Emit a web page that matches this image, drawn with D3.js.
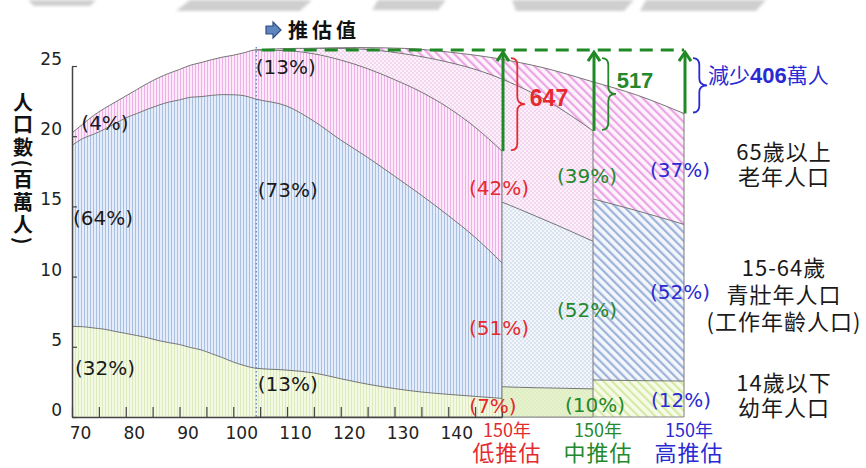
<!DOCTYPE html>
<html lang="zh-Hant">
<head>
<meta charset="utf-8">
<title>人口數推估</title>
<script src="https://cdn.jsdelivr.net/npm/d3@7/dist/d3.min.js"></script>
<style>
  html, body { margin: 0; padding: 0; background: #fff; }
  svg { display: block; }
</style>
</head>
<body>
<svg id="chart" width="866" height="468"></svg>
<script>
// ---- Population by age group, millions of people (ROC years) ----
const histYears    = [70, 72, 74, 76, 78, 80, 82, 84, 86, 88, 90, 92, 94, 96, 98, 100, 102, 104];
const histChildren = [5.80, 5.78, 5.70, 5.62, 5.48, 5.35, 5.22, 5.08, 4.90, 4.76, 4.64, 4.45, 4.30, 4.05, 3.80, 3.52, 3.30, 3.13];
const histWorking  = [11.59, 12.05, 12.40, 12.80, 13.30, 13.80, 14.20, 14.62, 15.05, 15.40, 15.66, 16.02, 16.21, 16.54, 16.84, 17.11, 17.27, 17.24];
const histElderly  = [0.80, 0.92, 1.20, 1.33, 1.37, 1.40, 1.53, 1.65, 1.75, 1.84, 1.95, 2.05, 2.18, 2.29, 2.40, 2.53, 2.75, 3.12];

// Projections from the base year 104 to 150
const projYears     = [104, 110, 115, 120, 125, 130, 135, 140, 145, 150];
const lowChildren   = [3.13, 3.00, 2.82, 2.45, 2.10, 1.82, 1.60, 1.45, 1.32, 1.19];
const lowWorking    = [17.24, 16.90, 16.12, 15.28, 14.52, 13.60, 12.60, 11.45, 10.18, 8.68];
const lowElderly    = [3.12, 3.55, 4.31, 5.12, 5.68, 6.18, 6.60, 6.90, 7.05, 7.15];
const midChildren   = [3.13, 3.05, 2.95, 2.75, 2.45, 2.20, 2.00, 1.90, 1.85, 1.80];
const midWorking    = [17.24, 16.75, 15.95, 15.05, 14.15, 13.30, 12.30, 11.40, 10.45, 9.45];
const midElderly    = [3.12, 3.80, 4.70, 5.70, 6.60, 7.25, 7.80, 7.85, 7.60, 7.07];
const highChildren  = [3.13, 3.15, 3.15, 3.00, 2.80, 2.60, 2.45, 2.37, 2.33, 2.30];
const highWorking   = [17.24, 16.65, 15.75, 14.80, 13.90, 13.10, 12.35, 11.63, 10.87, 10.03];
const highElderly   = [3.12, 3.80, 4.75, 5.80, 6.65, 7.25, 7.55, 7.50, 7.40, 7.10];

// Axis ticks and labels
const yTickValues  = [0, 5, 10, 15, 20, 25];
const xTickValues  = [70, 75, 80, 85, 90, 95, 100, 105, 110, 115, 120, 125, 130, 135, 140, 145, 150];
const xTickLabels  = [70, 80, 90, 100, 110, 120, 130, 140];
const scenarioNames = ["低推估", "中推估", "高推估"];
const endYearLabel  = "150年";
const projLabel     = "推估值";
const yTitle        = "人口數(百萬人)";
const groupLegend   = [["65歲以上", "老年人口"], ["15-64歲", "青壯年人口", "(工作年齡人口)"], ["14歲以下", "幼年人口"]];

// ---- Setup ----
const svg = d3.select("#chart");
const defs = svg.append("defs");
const CJK = '"Noto Sans CJK TC", "Noto Sans CJK SC", sans-serif';
const NUM = '"DejaVu Sans", sans-serif';
const BOLD = '"Liberation Sans", Arial, sans-serif';
const RED = "#e42a2f", GREEN = "#24882c", BLUE = "#2a2ad2", ARROW = "#1f8a25";

const baseYear = 104, endYear = 150;
// population scale (millions)
const y = d3.scaleLinear().domain([0, 25]).range([417, 417 - 25 * 15.62]);
// printed value axis
const yAxisScale = d3.scaleLinear().domain([0, 25]).range([417, 66]);
const xLow  = d3.scaleLinear().domain([70, endYear]).range([72, 502]);
const xMid  = d3.scaleLinear().domain([baseYear, endYear]).range([xLow(baseYear), 593]);
const xHigh = d3.scaleLinear().domain([baseYear, endYear]).range([xLow(baseYear), 684]);

// ---- Fill patterns ----
function stripes(id, bg, fg, size, lw, angle) {
  const p = defs.append("pattern").attr("id", id).attr("patternUnits", "userSpaceOnUse")
    .attr("width", size).attr("height", size);
  if (angle) p.attr("patternTransform", `rotate(${angle})`);
  p.append("rect").attr("width", size).attr("height", size).attr("fill", bg);
  p.append("rect").attr("width", lw).attr("height", size).attr("fill", fg);
}
function dots(id, bg, fg) {
  const p = defs.append("pattern").attr("id", id).attr("patternUnits", "userSpaceOnUse")
    .attr("width", 4).attr("height", 4);
  p.append("rect").attr("width", 4).attr("height", 4).attr("fill", bg);
  p.append("circle").attr("cx", 1).attr("cy", 1).attr("r", 0.75).attr("fill", fg);
  p.append("circle").attr("cx", 3).attr("cy", 3).attr("r", 0.75).attr("fill", fg);
}
stripes("vPink",  "#fde9fa", "#eeb0e8", 3, 1, 0);
stripes("vBlue",  "#e4edf9", "#a9c0e2", 3, 1, 0);
stripes("vGreen", "#f4f9e4", "#dcebbd", 3, 1, 0);
dots("dPink", "#fdf1fb", "#e6aee0");
dots("dBlue", "#f3f6fb", "#b3c4de");
dots("dGreen", "#e5f2cd", "#d5e9b3");
stripes("sPink",  "#fdf3fc", "#eba5e4", 6, 2.2, -45);
stripes("sBlue",  "#f3f6fb", "#9db3d9", 6, 2.2, -45);
stripes("sGreen", "#f7fbea", "#d7eaa4", 6, 2.2, -45);

const blur = defs.append("filter").attr("id", "soft");
blur.append("feGaussianBlur").attr("stdDeviation", 1.4);

// faded banner remnants along the top edge
const banner = [
  [[28, 0], [96, 0], [90, 6], [34, 6]],
  [[190, 0], [312, 0], [300, 11], [176, 11]],
  [[378, 0], [446, 0], [438, 10], [372, 10]],
  [[512, 0], [634, 0], [624, 11], [516, 11]],
  [[646, 0], [766, 0], [756, 11], [640, 11]]
];
svg.append("g").attr("filter", "url(#soft)").selectAll("polygon").data(banner).join("polygon")
  .attr("points", d => d.map(p => p.join(",")).join(" ")).attr("fill", "#cfcfcf");

// ---- Stacked areas: high (back), medium, low + history (front) ----
function rows(years, c, w, e) {
  return years.map((yr, i) => ({ year: yr, children: c[i], working: w[i], elderly: e[i] }));
}
const keys = ["children", "working", "elderly"];
const scenarios = [
  { rows: rows(projYears, highChildren, highWorking, highElderly), x: xHigh, fills: ["sGreen", "sBlue", "sPink"] },
  { rows: rows(projYears, midChildren, midWorking, midElderly), x: xMid, fills: ["dGreen", "dBlue", "dPink"] },
  { rows: rows(histYears, histChildren, histWorking, histElderly)
      .concat(rows(projYears, lowChildren, lowWorking, lowElderly).slice(1)),
    x: xLow, fills: ["vGreen", "vBlue", "vPink"] }
];

scenarios.forEach(s => {
  const g = svg.append("g");
  const series = d3.stack().keys(keys)(s.rows);
  const area = d3.area().x(d => s.x(d.data.year)).y0(d => y(d[0])).y1(d => y(d[1])).curve(d3.curveMonotoneX);
  const line = d3.line().x(d => s.x(d.data.year)).y(d => y(d[1])).curve(d3.curveMonotoneX);
  g.selectAll("path.band").data(series).join("path").attr("class", "band")
    .attr("d", area).attr("fill", (d, i) => `url(#${s.fills[i]})`);
  g.selectAll("path.edge").data(series).join("path").attr("class", "edge")
    .attr("d", line).attr("fill", "none").attr("stroke", "#767676").attr("stroke-width", 1);
  const last = series[2][series[2].length - 1];
  g.append("line").attr("x1", s.x(endYear)).attr("x2", s.x(endYear))
    .attr("y1", y(last[1])).attr("y2", y(0)).attr("stroke", "#7a7a7a").attr("stroke-width", 1);
  g.append("line").attr("x1", s.x(baseYear)).attr("x2", s.x(endYear))
    .attr("y1", y(0)).attr("y2", y(0)).attr("stroke", "#8a8a8a").attr("stroke-width", 1);
});

// projection start marker
svg.append("line").attr("x1", xLow(baseYear) + 1.5).attr("x2", xLow(baseYear) + 1.5)
  .attr("y1", 47).attr("y2", y(0))
  .attr("stroke", "#4f7bbb").attr("stroke-width", 1.2).attr("stroke-dasharray", "1.5,2.5");

// ---- Axes ----
const yAxis = svg.append("g").attr("transform", `translate(${xLow(70)},0)`)
  .call(d3.axisLeft(yAxisScale).tickValues(yTickValues).tickSizeInner(-5).tickSizeOuter(0).tickPadding(10));
yAxis.select(".domain").attr("stroke", "#444").attr("stroke-width", 1.5);
yAxis.selectAll(".tick line").attr("stroke", "#444").attr("stroke-width", 1.2);
yAxis.selectAll(".tick text").attr("transform", "translate(0,-7)")
  .style("font-family", NUM).style("font-size", "17px").attr("fill", "#222");

const xAxis = svg.append("g").attr("transform", `translate(0,${y(0)})`)
  .call(d3.axisBottom(xLow).tickValues(xTickValues).tickSizeInner(-10).tickSizeOuter(0).tickPadding(10)
    .tickFormat(v => xTickLabels.includes(v) ? v : ""));
xAxis.select(".domain").attr("stroke", "#444").attr("stroke-width", 1.5);
xAxis.selectAll(".tick line").attr("stroke", "#444").attr("stroke-width", 1.2);
xAxis.selectAll(".tick text").filter(v => !xTickLabels.includes(v)).remove();
xAxis.selectAll(".tick text").attr("transform", "translate(8,0)")
  .style("font-family", NUM).style("font-size", "17px").attr("fill", "#222");

// scenario labels under each year-150 edge (two lines in one label)
const scenColors = [RED, GREEN, BLUE];
[xLow, xMid, xHigh].forEach((sx, i) => {
  const cx = sx(endYear) + 5;
  const t = svg.append("text").attr("text-anchor", "middle").style("font-family", CJK)
    .attr("fill", scenColors[i]);
  t.append("tspan").attr("x", cx).attr("y", 437).style("font-size", "18px").text(endYearLabel);
  t.append("tspan").attr("x", cx).attr("y", 461).style("font-size", "22px")
    .style("letter-spacing", "1px").text(scenarioNames[i]);
});

// ---- Decline from the base year ----
const baseTotal = histChildren[histChildren.length - 1] + histWorking[histWorking.length - 1] + histElderly[histElderly.length - 1];
const ends = [
  lowChildren[9] + lowWorking[9] + lowElderly[9],
  midChildren[9] + midWorking[9] + midElderly[9],
  highChildren[9] + highWorking[9] + highElderly[9]
];
const topY = y(baseTotal);
svg.append("line").attr("x1", xLow(baseYear) + 7).attr("x2", xHigh(endYear))
  .attr("y1", topY).attr("y2", topY)
  .attr("stroke", ARROW).attr("stroke-width", 3).attr("stroke-dasharray", "13,8");

function bracePath(x, y1, y2, w) {
  const m = (y1 + y2) / 2, r = Math.min(7, (y2 - y1) / 5), xm = x + w * 0.45;
  return `M${x},${y1} Q${xm},${y1} ${xm},${y1 + r} L${xm},${m - r} Q${xm},${m} ${x + w},${m}` +
         ` Q${xm},${m} ${xm},${m + r} L${xm},${y2 - r} Q${xm},${y2} ${x},${y2}`;
}
const braceCols = [RED, GREEN, BLUE];
[xLow, xMid, xHigh].forEach((sx, i) => {
  const ax = sx(endYear) + 1;
  const yb = y(ends[i]);
  svg.append("line").attr("x1", ax).attr("x2", ax).attr("y1", yb).attr("y2", topY + 2)
    .attr("stroke", ARROW).attr("stroke-width", 3);
  svg.append("path").attr("d", `M${ax - 6},${topY + 11} L${ax},${topY + 2} L${ax + 6},${topY + 11}`)
    .attr("fill", "none").attr("stroke", ARROW).attr("stroke-width", 3).attr("stroke-linejoin", "miter");
  svg.append("path").attr("d", bracePath(ax + 8, topY + 8, yb - 1, 14))
    .attr("fill", "none").attr("stroke", braceCols[i]).attr("stroke-width", 1.8);
});
const drop = ends.map(v => Math.round((baseTotal - v) * 100));
svg.append("text").attr("x", xLow(endYear) + 47).attr("y", 106).attr("text-anchor", "middle")
  .style("font-family", BOLD).style("font-weight", "bold").style("font-size", "23px")
  .attr("fill", RED).text(drop[0]);
svg.append("text").attr("x", xMid(endYear) + 42).attr("y", 88).attr("text-anchor", "middle")
  .style("font-family", BOLD).style("font-weight", "bold").style("font-size", "22px")
  .attr("fill", GREEN).text(drop[1]);
const hiTxt = svg.append("text").attr("x", xHigh(endYear) + 24).attr("y", 83)
  .style("font-family", CJK).style("font-size", "21px").attr("fill", BLUE);
hiTxt.append("tspan").text("減少");
hiTxt.append("tspan").style("font-family", BOLD).style("font-weight", "bold").style("font-size", "22px").text(drop[2]);
hiTxt.append("tspan").text("萬人");

// ---- Share labels ----
function share(c, w, e, i) {
  const t = c[i] + w[i] + e[i];
  return [e[i], w[i], c[i]].map(v => `(${Math.round(v / t * 100)}%)`);
}
const hLast = histYears.length - 1;
const shareSets = [
  { txt: share(histChildren, histWorking, histElderly, 0), color: "#1a1a1a",
    pos: [[xLow(70) + 33, 123], [xLow(70) + 31, 218], [xLow(70) + 33, 368]] },
  { txt: share(histChildren, histWorking, histElderly, hLast), color: "#1a1a1a",
    pos: [[xLow(baseYear) + 31, 67], [xLow(baseYear) + 33, 190], [xLow(baseYear) + 33, 384]] },
  { txt: share(lowChildren, lowWorking, lowElderly, 9), color: RED,
    pos: [[xLow(endYear) - 3, 188], [xLow(endYear) - 3, 328], [xLow(endYear) - 9, 406]] },
  { txt: share(midChildren, midWorking, midElderly, 9), color: GREEN,
    pos: [[xMid(endYear) - 6, 176], [xMid(endYear) - 6, 310], [xMid(endYear) + 2, 405]] },
  { txt: share(highChildren, highWorking, highElderly, 9), color: BLUE,
    pos: [[xHigh(endYear) - 4, 170], [xHigh(endYear) - 4, 292], [xHigh(endYear) - 3, 400]] }
];
shareSets.forEach(s => {
  s.txt.forEach((t, i) => {
    svg.append("text").attr("x", s.pos[i][0]).attr("y", s.pos[i][1]).attr("dy", "0.36em")
      .attr("text-anchor", "middle").style("font-family", NUM).style("font-size", "20px")
      .attr("fill", s.color).text(t);
  });
});

// ---- Age group legend ----
const legendY = [[152, 177], [268, 295, 322], [383, 408]];
groupLegend.forEach((lines, gi) => {
  lines.forEach((ln, li) => {
    svg.append("text").attr("x", 784).attr("y", legendY[gi][li]).attr("dy", "0.36em")
      .attr("text-anchor", "middle").style("font-family", CJK).style("font-size", "22px")
      .style("letter-spacing", "1px").attr("fill", "#1a1a1a").text(ln);
  });
});

// ---- Projection marker caption ----
const cap = svg.append("g");
cap.append("path")
  .attr("d", "M266,26 L273,26 L273,22 L281,30 L273,38 L273,34 L266,34 Z")
  .attr("fill", "#5d86bf").attr("stroke", "#2e4f82").attr("stroke-width", 1.2);
cap.append("text").attr("x", 288).attr("y", 31).attr("dy", "0.36em")
  .style("font-family", CJK).style("font-size", "20px").style("font-weight", "bold")
  .style("letter-spacing", "4px").attr("fill", "#111").text(projLabel);

// ---- Vertical axis title (one column of text) ----
svg.append("text").attr("x", 23).attr("y", 92)
  .style("writing-mode", "vertical-rl").style("font-family", CJK).style("font-size", "20px")
  .style("font-weight", "bold").style("letter-spacing", "2.5px").attr("fill", "#111")
  .text(yTitle);
</script>
</body>
</html>
